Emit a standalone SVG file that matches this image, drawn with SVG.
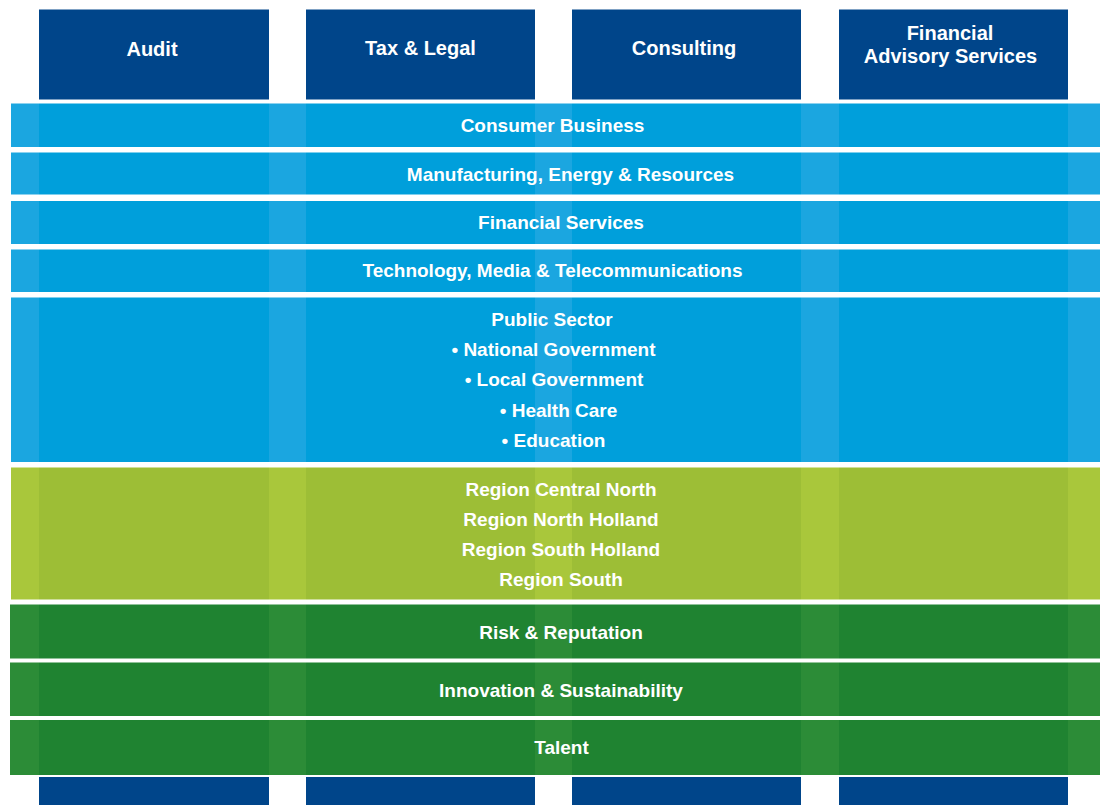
<svg xmlns="http://www.w3.org/2000/svg" width="1100" height="805" viewBox="0 0 1100 805">
  <style>
    .hdr { fill: #00458a; }
    .t { font-family: "Liberation Sans", Arial, sans-serif; font-weight: bold; font-size: 19px; fill: #ffffff; text-anchor: middle; }
    .th { font-size: 20px; }
  </style>
  <defs>
    <pattern id="pCyan" patternUnits="userSpaceOnUse" x="0" y="0" width="1100" height="805">
      <rect x="0" y="0" width="1100" height="805" fill="#1ba6e0"/>
      <rect x="39" y="0" width="230" height="805" fill="#009fdb"/>
      <rect x="306" y="0" width="229" height="805" fill="#009fdb"/>
      <rect x="572" y="0" width="229" height="805" fill="#009fdb"/>
      <rect x="839" y="0" width="229" height="805" fill="#009fdb"/>
    </pattern>
    <pattern id="pLime" patternUnits="userSpaceOnUse" x="0" y="0" width="1100" height="805">
      <rect x="0" y="0" width="1100" height="805" fill="#a9c73b"/>
      <rect x="39" y="0" width="230" height="805" fill="#9dbe36"/>
      <rect x="306" y="0" width="229" height="805" fill="#9dbe36"/>
      <rect x="572" y="0" width="229" height="805" fill="#9dbe36"/>
      <rect x="839" y="0" width="229" height="805" fill="#9dbe36"/>
    </pattern>
    <pattern id="pGreen" patternUnits="userSpaceOnUse" x="0" y="0" width="1100" height="805">
      <rect x="0" y="0" width="1100" height="805" fill="#2c8c37"/>
      <rect x="39" y="0" width="230" height="805" fill="#1f8331"/>
      <rect x="306" y="0" width="229" height="805" fill="#1f8331"/>
      <rect x="572" y="0" width="229" height="805" fill="#1f8331"/>
      <rect x="839" y="0" width="229" height="805" fill="#1f8331"/>
    </pattern>
  </defs>
  <rect x="0" y="0" width="1100" height="805" fill="#ffffff"/>

  <!-- Column headers -->
  <g id="col-audit">
    <rect class="hdr" x="39" y="9.5" width="230" height="90"/>
    <text class="t th" x="152" y="56">Audit</text>
  </g>
  <g id="col-tax">
    <rect class="hdr" x="306" y="9.5" width="229" height="90"/>
    <text class="t th" x="420.5" y="55">Tax &amp; Legal</text>
  </g>
  <g id="col-consulting">
    <rect class="hdr" x="572" y="9.5" width="229" height="90"/>
    <text class="t th" x="684" y="55">Consulting</text>
  </g>
  <g id="col-fas">
    <rect class="hdr" x="839" y="9.5" width="229" height="90"/>
    <text class="t th" x="950" y="39.5">Financial</text>
    <text class="t th" x="950.5" y="63">Advisory Services</text>
  </g>

  <!-- Column bases -->
  <g id="col-bases">
    <rect class="hdr" x="39" y="777" width="230" height="28"/>
    <rect class="hdr" x="306" y="777" width="229" height="28"/>
    <rect class="hdr" x="572" y="777" width="229" height="28"/>
    <rect class="hdr" x="839" y="777" width="229" height="28"/>
  </g>

  <!-- Industry bands -->
  <g id="band-consumer">
    <rect x="11" y="103.5" width="1089" height="43.5" fill="url(#pCyan)"/>
    <text class="t" x="552.5" y="131.5">Consumer Business</text>
  </g>
  <g id="band-mer">
    <rect x="11" y="152.5" width="1089" height="42" fill="url(#pCyan)"/>
    <text class="t" x="570.5" y="180.5">Manufacturing, Energy &amp; Resources</text>
  </g>
  <g id="band-fs">
    <rect x="11" y="201" width="1089" height="43" fill="url(#pCyan)"/>
    <text class="t" x="561" y="228.5">Financial Services</text>
  </g>
  <g id="band-tmt">
    <rect x="11" y="249.5" width="1089" height="42.5" fill="url(#pCyan)"/>
    <text class="t" x="552.5" y="276.5">Technology, Media &amp; Telecommunications</text>
  </g>
  <g id="band-public">
    <rect x="11" y="297.5" width="1089" height="164.5" fill="url(#pCyan)"/>
    <text class="t" x="552" y="325.5">Public Sector</text>
    <text class="t" x="553.5" y="356">• National Government</text>
    <text class="t" x="554" y="386">• Local Government</text>
    <text class="t" x="558.5" y="416.5">• Health Care</text>
    <text class="t" x="553.5" y="447">• Education</text>
  </g>

  <!-- Regions -->
  <g id="band-regions">
    <rect x="11" y="467.5" width="1089" height="132" fill="url(#pLime)"/>
    <text class="t" x="561" y="496">Region Central North</text>
    <text class="t" x="561" y="526">Region North Holland</text>
    <text class="t" x="561" y="556">Region South Holland</text>
    <text class="t" x="561" y="586">Region South</text>
  </g>

  <!-- Themes -->
  <g id="band-risk">
    <rect x="10" y="604.5" width="1090" height="54" fill="url(#pGreen)"/>
    <text class="t" x="561" y="639">Risk &amp; Reputation</text>
  </g>
  <g id="band-innovation">
    <rect x="10" y="662.5" width="1090" height="53.5" fill="url(#pGreen)"/>
    <text class="t" x="561" y="696.5">Innovation &amp; Sustainability</text>
  </g>
  <g id="band-talent">
    <rect x="10" y="720" width="1090" height="55" fill="url(#pGreen)"/>
    <text class="t" x="561.5" y="753.5">Talent</text>
  </g>

  <g id="connectors"/>
</svg>
